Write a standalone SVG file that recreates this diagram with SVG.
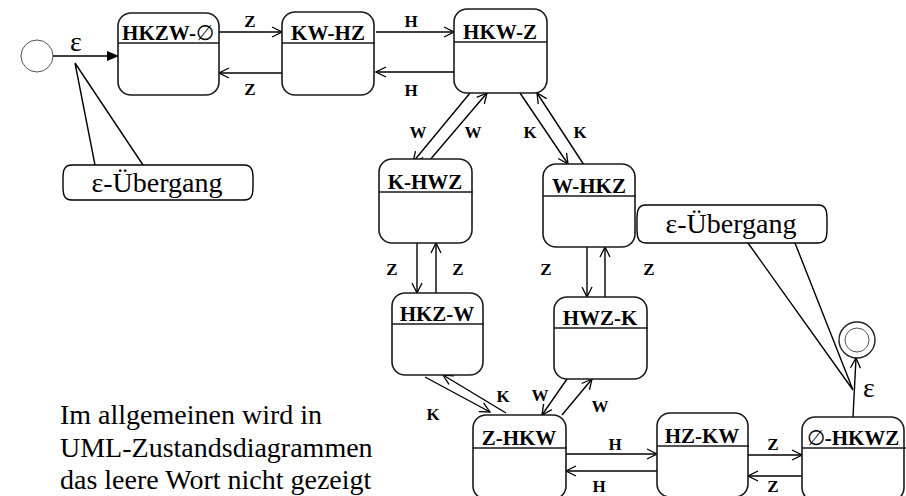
<svg xmlns="http://www.w3.org/2000/svg" width="906" height="496" viewBox="0 0 906 496">
<style>
.box{fill:#fff;stroke:#1a1a1a;stroke-width:1.6}
.hdr{stroke:#1a1a1a;stroke-width:1.6}
.nm{font-family:"Liberation Serif","DejaVu Serif",serif;font-weight:bold;font-size:21px;text-anchor:middle;fill:#000}
.es{font-weight:normal}
.lb{font-family:"Liberation Serif","DejaVu Serif",serif;font-weight:bold;font-size:17px;text-anchor:middle;fill:#000}
.tx{font-family:"Liberation Serif","DejaVu Serif",serif;font-size:28px;fill:#000}
.ed{fill:none;stroke:#000;stroke-width:1.4}
.co{fill:#fff;stroke:#000;stroke-width:1.4}
</style>
<defs>
<marker id="open" viewBox="0 0 12 12" refX="11" refY="6" markerWidth="12" markerHeight="12" markerUnits="userSpaceOnUse" orient="auto">
<path d="M1,1 L11,6 L1,11" fill="none" stroke="#000" stroke-width="1.3"/>
</marker>
<marker id="fill" viewBox="0 0 12 12" refX="11" refY="6" markerWidth="12" markerHeight="12" markerUnits="userSpaceOnUse" orient="auto">
<path d="M0,1 L12,6 L0,11 Z" fill="#000"/>
</marker>
</defs>

<g id="connectors">
<circle cx="37" cy="56" r="16" fill="none" stroke="#555" stroke-width="1"/>
<line class="ed" x1="53" y1="56" x2="118" y2="56" marker-end="url(#fill)"/>
<text class="tx" x="76" y="51" text-anchor="middle">ε</text>

<line class="ed" x1="219" y1="32" x2="282" y2="32" marker-end="url(#open)"/>
<text class="lb" x="250" y="27">Z</text>
<line class="ed" x1="282" y1="73" x2="219" y2="73" marker-end="url(#open)"/>
<text class="lb" x="250" y="95">Z</text>

<line class="ed" x1="376" y1="32" x2="454" y2="32" marker-end="url(#open)"/>
<text class="lb" x="411" y="27">H</text>
<line class="ed" x1="454" y1="72" x2="376" y2="72" marker-end="url(#open)"/>
<text class="lb" x="411" y="96">H</text>

<line class="ed" x1="470" y1="93" x2="413" y2="162" marker-end="url(#open)"/>
<text class="lb" x="418" y="138">W</text>
<line class="ed" x1="429" y1="161" x2="487" y2="93" marker-end="url(#open)"/>
<text class="lb" x="473" y="138">W</text>

<line class="ed" x1="520" y1="93" x2="568" y2="164" marker-end="url(#open)"/>
<text class="lb" x="530" y="138">K</text>
<line class="ed" x1="584" y1="165" x2="537" y2="93" marker-end="url(#open)"/>
<text class="lb" x="580" y="138">K</text>

<line class="ed" x1="417" y1="243" x2="417" y2="293" marker-end="url(#open)"/>
<text class="lb" x="392" y="275">Z</text>
<line class="ed" x1="436" y1="293" x2="436" y2="243" marker-end="url(#open)"/>
<text class="lb" x="458" y="275">Z</text>

<line class="ed" x1="587" y1="247" x2="587" y2="297" marker-end="url(#open)"/>
<text class="lb" x="546" y="275">Z</text>
<line class="ed" x1="605" y1="297" x2="605" y2="247" marker-end="url(#open)"/>
<text class="lb" x="649" y="275">Z</text>

<line class="ed" x1="425" y1="377" x2="490" y2="412" marker-end="url(#open)"/>
<text class="lb" x="433" y="420">K</text>
<line class="ed" x1="506" y1="413" x2="443" y2="375" marker-end="url(#open)"/>
<text class="lb" x="503" y="402">K</text>

<line class="ed" x1="567" y1="379" x2="542" y2="415" marker-end="url(#open)"/>
<text class="lb" x="540" y="401">W</text>
<line class="ed" x1="562" y1="415" x2="592" y2="379" marker-end="url(#open)"/>
<text class="lb" x="600" y="412">W</text>

<line class="ed" x1="562" y1="454" x2="657" y2="454" marker-end="url(#open)"/>
<text class="lb" x="615" y="450">H</text>
<line class="ed" x1="657" y1="471" x2="566" y2="471" marker-end="url(#open)"/>
<text class="lb" x="599" y="492">H</text>

<line class="ed" x1="748" y1="455" x2="802" y2="455" marker-end="url(#open)"/>
<text class="lb" x="773" y="450">Z</text>
<line class="ed" x1="805" y1="476" x2="748" y2="476" marker-end="url(#open)"/>
<text class="lb" x="773" y="492">Z</text>

<line class="ed" x1="853" y1="417" x2="856" y2="358" marker-end="url(#open)"/>
<text class="tx" x="869" y="397" text-anchor="middle">ε</text>
<circle cx="857" cy="340" r="18" fill="none" stroke="#222" stroke-width="1.4"/>
<circle cx="857" cy="340" r="12" fill="none" stroke="#555" stroke-width="1"/>
</g>

<g id="n-HKZW"><rect class="box" x="118" y="13" width="101" height="82" rx="13"/><line class="hdr" x1="118" y1="43" x2="219" y2="43"/><text class="nm" x="168" y="40">HKZW-<tspan class="es">∅</tspan></text></g>
<g id="n-KW-HZ"><rect class="box" x="282" y="12" width="92" height="83" rx="13"/><line class="hdr" x1="282" y1="43" x2="375" y2="43"/><text class="nm" x="328" y="40">KW-HZ</text></g>
<g id="n-HKW-Z"><rect class="box" x="454" y="9" width="93" height="84" rx="13"/><line class="hdr" x1="454" y1="42" x2="547" y2="42"/><text class="nm" x="500" y="39">HKW-Z</text></g>
<g id="n-K-HWZ"><rect class="box" x="379" y="159" width="93" height="84" rx="13"/><line class="hdr" x1="379" y1="192" x2="473" y2="192"/><text class="nm" x="425" y="189">K-HWZ</text></g>
<g id="n-W-HKZ"><rect class="box" x="543" y="164" width="92" height="83" rx="13"/><line class="hdr" x1="543" y1="196" x2="636" y2="196"/><text class="nm" x="589" y="193">W-HKZ</text></g>
<g id="n-HKZ-W"><rect class="box" x="392" y="293" width="91" height="82" rx="13"/><line class="hdr" x1="392" y1="324" x2="484" y2="324"/><text class="nm" x="437" y="321">HKZ-W</text></g>
<g id="n-HWZ-K"><rect class="box" x="554" y="297" width="93" height="82" rx="13"/><line class="hdr" x1="554" y1="328" x2="648" y2="328"/><text class="nm" x="600" y="325">HWZ-K</text></g>
<g id="n-Z-HKW"><rect class="box" x="473" y="415" width="93" height="84" rx="13"/><line class="hdr" x1="473" y1="448" x2="567" y2="448"/><text class="nm" x="519" y="445">Z-HKW</text></g>
<g id="n-HZ-KW"><rect class="box" x="657" y="413" width="91" height="84" rx="13"/><line class="hdr" x1="657" y1="446" x2="749" y2="446"/><text class="nm" x="702" y="443">HZ-KW</text></g>
<g id="n-HKWZ"><rect class="box" x="802" y="417" width="102" height="84" rx="13"/><line class="hdr" x1="802" y1="448" x2="906" y2="448"/><text class="nm" x="853" y="445"><tspan class="es">∅</tspan>-HKWZ</text></g>

<g id="callout-left">
<path class="co" d="M75,63 L95,165 M75,63 L143,165"/>
<path class="co" d="M72,165 H244 C254,165 253,174 253,182 C253,191 254,200 244,200 H72 C62,200 63,191 63,182 C63,174 62,165 72,165 Z"/>
<text class="tx" x="157" y="192" text-anchor="middle">ε-Übergang</text>
</g>
<g id="callout-right">
<path class="co" d="M853,390 L748,243 M853,390 L795,243"/>
<path class="co" d="M646,205 H818 C828,205 827,214 827,224 C827,234 828,243 818,243 H646 C636,243 637,234 637,224 C637,214 636,205 646,205 Z"/>
<text class="tx" x="731" y="233" text-anchor="middle">ε-Übergang</text>
</g>

<g id="note">
<text class="tx" x="60" y="424">Im allgemeinen wird in</text>
<text class="tx" x="60" y="457">UML-Zustandsdiagrammen</text>
<text class="tx" x="60" y="489">das leere Wort nicht gezeigt</text>
</g>
</svg>
